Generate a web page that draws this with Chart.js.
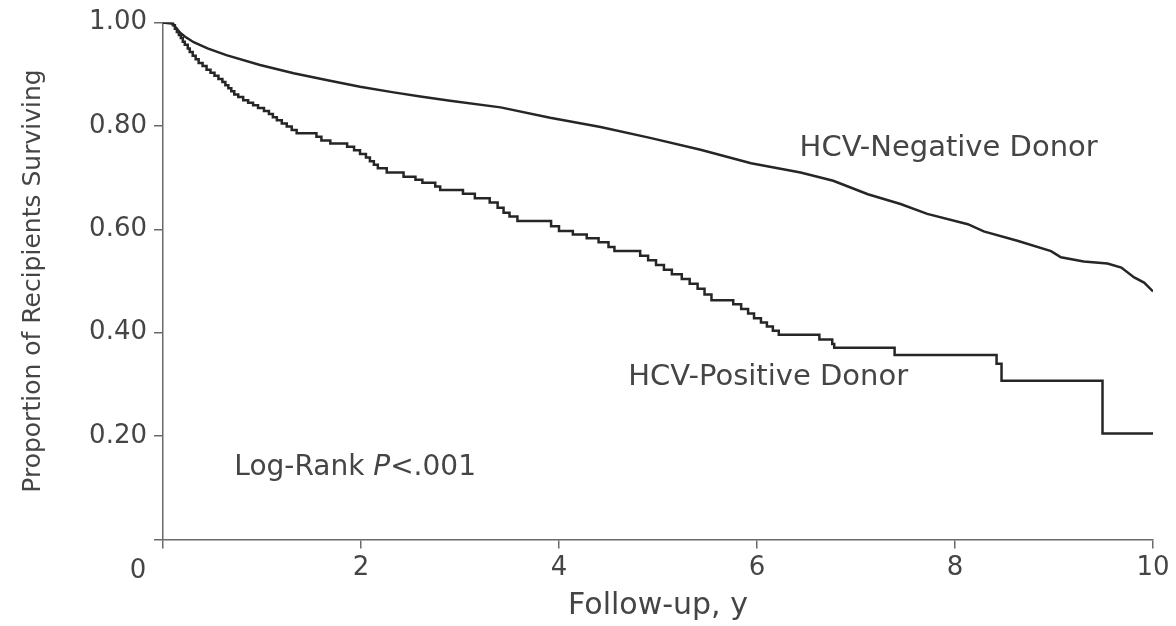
<!DOCTYPE html>
<html>
<head>
<meta charset="utf-8">
<script src="https://cdn.jsdelivr.net/npm/chart.js@4/dist/chart.umd.min.js"></script>
<style>
  html, body { margin: 0; padding: 0; background: #fff; }
  #wrap { width: 1176px; height: 626px; position: relative; }
</style>
</head>
<body>
<div id="wrap"><canvas id="c" width="1176" height="626"></canvas></div>
<script>
// ---- Data ----
const negTimes = [0, 0.10, 0.13, 0.17, 0.22, 0.31, 0.45, 0.64, 0.98, 1.32, 1.65, 1.99, 2.33, 2.60, 2.90, 3.41, 3.91, 4.42, 4.92, 5.43, 5.94, 6.44, 6.77, 7.12, 7.45, 7.72, 8.13, 8.29, 8.63, 8.97, 9.07, 9.30, 9.54, 9.68, 9.81, 9.91, 10.0];
const negSurv  = [1.0, 0.998, 0.990, 0.981, 0.973, 0.962, 0.950, 0.937, 0.918, 0.902, 0.889, 0.876, 0.865, 0.857, 0.849, 0.836, 0.816, 0.798, 0.777, 0.754, 0.728, 0.710, 0.694, 0.668, 0.649, 0.630, 0.610, 0.596, 0.578, 0.558, 0.546, 0.538, 0.534, 0.526, 0.507, 0.497, 0.480];

const posTimes = [0, 0.10, 0.12, 0.14, 0.16, 0.18, 0.20, 0.22, 0.25, 0.27, 0.30, 0.33, 0.36, 0.40, 0.44, 0.48, 0.52, 0.56, 0.60, 0.63, 0.66, 0.69, 0.72, 0.76, 0.81, 0.86, 0.91, 0.96, 1.02, 1.07, 1.11, 1.15, 1.20, 1.25, 1.30, 1.35, 1.55, 1.60, 1.69, 1.86, 1.93, 1.99, 2.05, 2.09, 2.13, 2.17, 2.26, 2.43, 2.55, 2.62, 2.75, 2.80, 3.03, 3.15, 3.30, 3.38, 3.44, 3.50, 3.58, 3.92, 4.00, 4.14, 4.28, 4.40, 4.50, 4.56, 4.82, 4.90, 4.98, 5.06, 5.14, 5.24, 5.32, 5.40, 5.47, 5.54, 5.76, 5.84, 5.91, 5.97, 6.04, 6.10, 6.16, 6.22, 6.63, 6.76, 6.78, 7.39, 8.42, 8.47, 9.49, 10.0];
const posSurv  = [1.0, 0.995, 0.988, 0.982, 0.976, 0.970, 0.963, 0.957, 0.950, 0.943, 0.936, 0.929, 0.922, 0.916, 0.909, 0.903, 0.897, 0.891, 0.885, 0.879, 0.873, 0.867, 0.861, 0.856, 0.850, 0.845, 0.840, 0.835, 0.829, 0.823, 0.817, 0.811, 0.805, 0.799, 0.792, 0.786, 0.779, 0.772, 0.766, 0.760, 0.753, 0.746, 0.739, 0.732, 0.725, 0.718, 0.710, 0.702, 0.696, 0.690, 0.683, 0.676, 0.669, 0.660, 0.652, 0.642, 0.632, 0.625, 0.616, 0.606, 0.597, 0.590, 0.583, 0.575, 0.566, 0.558, 0.549, 0.540, 0.531, 0.522, 0.513, 0.504, 0.495, 0.485, 0.474, 0.463, 0.455, 0.446, 0.437, 0.428, 0.420, 0.412, 0.404, 0.396, 0.387, 0.378, 0.371, 0.357, 0.340, 0.307, 0.205, 0.205];

const seriesNames = ['HCV-Negative Donor', 'HCV-Positive Donor'];
const xTickStep = 2;
const yTickStep = 0.2;
const xTitle = 'Follow-up, y';
const yTitle = 'Proportion of Recipients Surviving';

// label anchor points in data units: [x, y]
const labelNames = ['HCV-Negative Donor', 'HCV-Positive Donor'];
const labelAnchors = [[6.43, 0.741], [4.70, 0.298]];
const pvalueAnchor = [0.72, 0.124];
const pvalueParts = ['Log-Rank ', 'P', '<.001'];

// ---- Chart ----
const FONT = '"DejaVu Sans", sans-serif';
const TEXT = '#454545';
const AXIS = '#6a6a6a';
const LINE = '#262626';

const toPts = (xs, ys) => xs.map((x, i) => ({x: x, y: ys[i]}));

const annot = {
  id: 'annot',
  afterDraw(chart) {
    const {ctx, scales: {x, y}} = chart;
    ctx.save();
    ctx.fillStyle = TEXT;
    ctx.textBaseline = 'alphabetic';
    ctx.textAlign = 'left';
    ctx.font = '29px ' + FONT;
    labelNames.forEach((t, i) => {
      ctx.fillText(t, x.getPixelForValue(labelAnchors[i][0]), y.getPixelForValue(labelAnchors[i][1]));
    });
    // p-value with italic P
    let px = x.getPixelForValue(pvalueAnchor[0]);
    const py = y.getPixelForValue(pvalueAnchor[1]);
    pvalueParts.forEach((t, i) => {
      ctx.font = (i === 1 ? 'italic ' : '') + '28px ' + FONT;
      ctx.fillText(t, px, py);
      px += ctx.measureText(t).width;
    });
    // origin "0" label, set left of the origin
    ctx.font = '26px ' + FONT;
    ctx.textAlign = 'center';
    ctx.fillText('0', x.getPixelForValue(0) - 25, y.getPixelForValue(0) + 38);
    ctx.restore();
  }
};

new Chart(document.getElementById('c'), {
  type: 'line',
  data: {
    datasets: [
      {
        label: seriesNames[0],
        data: toPts(negTimes, negSurv),
        borderColor: LINE,
        borderWidth: 2.5,
        pointRadius: 0,
        tension: 0,
        fill: false
      },
      {
        label: seriesNames[1],
        data: toPts(posTimes, posSurv),
        borderColor: LINE,
        borderWidth: 2.5,
        pointRadius: 0,
        stepped: 'before',
        fill: false
      }
    ]
  },
  options: {
    responsive: false,
    animation: false,
    devicePixelRatio: 1,
    layout: { padding: { left: 0, right: 23, top: 21, bottom: 0 } },
    plugins: { legend: { display: false }, tooltip: { enabled: false } },
    scales: {
      x: {
        type: 'linear',
        min: 0, max: 10,
        afterFit(s) { s.height = 86.5; },
        border: { display: true, color: AXIS, width: 1.5 },
        grid: { display: true, drawOnChartArea: false, drawTicks: true, tickLength: 9, color: AXIS, tickColor: AXIS, lineWidth: 1.5 },
        ticks: {
          stepSize: xTickStep,
          color: TEXT,
          font: { family: FONT, size: 26 },
          padding: 4,
          maxRotation: 0,
          callback: (v) => v === 0 ? '' : String(v)
        },
        title: { display: true, text: xTitle, color: TEXT, font: { family: FONT, size: 30 }, padding: { top: 0, bottom: 2 } }
      },
      y: {
        type: 'linear',
        min: 0, max: 1,
        afterFit(s) { s.width = 163; },
        border: { display: true, color: AXIS, width: 1.5 },
        grid: { display: true, drawOnChartArea: false, drawTicks: true, tickLength: 9, color: AXIS, tickColor: AXIS, lineWidth: 1.5 },
        ticks: {
          stepSize: yTickStep,
          color: TEXT,
          font: { family: FONT, size: 26 },
          padding: 7,
          callback: (v) => v === 0 ? '' : v.toFixed(2)
        },
        title: { display: true, text: yTitle, color: TEXT, font: { family: FONT, size: 25 }, padding: { top: 18, bottom: 0 } }
      }
    }
  },
  plugins: [annot]
});
</script>
</body>
</html>
